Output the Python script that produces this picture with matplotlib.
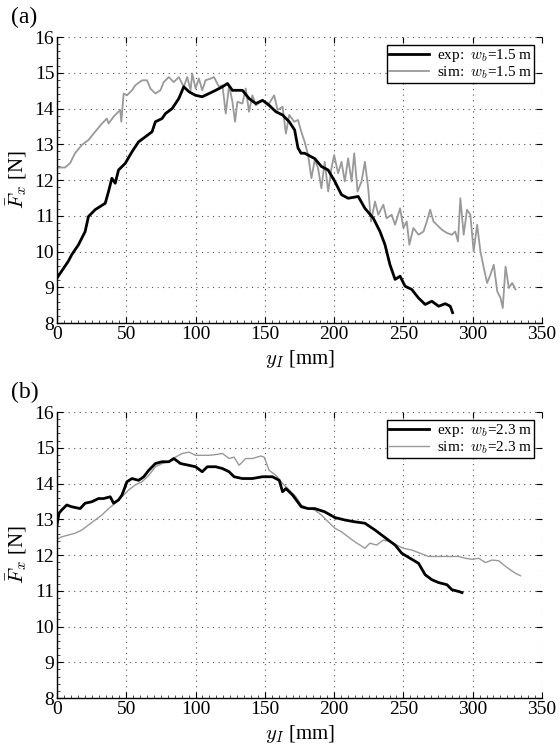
import numpy as np
import matplotlib
matplotlib.use("Agg")
from matplotlib import pyplot as plt
from matplotlib.ticker import MultipleLocator

plt.rcParams['font.family'] = ['Liberation Serif', 'DejaVu Serif']
plt.rcParams['mathtext.fontset'] = 'cm'

# === panel (a): w_b = 1.5 m ===
exp_a_x = [0, 8.2, 10.6, 15.5, 20.3, 22.7, 27.5, 34.8, 37.2, 39.6, 42, 44.4, 49.3, 54.1, 58.9,
           63.8, 68.6, 71, 75.8, 78.3, 83.1, 87.9, 91.5, 95.2, 100, 104.8, 109.7, 114.5, 119.4,
           123, 126.6, 133.8, 138.6, 143.5, 148.3, 153.1, 158, 162.8, 167.6, 171.5, 173.9,
           176.1, 178.7, 186, 190.8, 195.7, 200.5, 205.3, 210.1, 217.4, 222.2, 228.3, 233.1,
           236.7, 240.3, 244, 247.6, 251.2, 256, 260.9, 265.7, 270.5, 275.4, 280.2, 283.8, 285.5]
exp_a_y = [9.26, 9.73, 9.91, 10.19, 10.56, 10.98, 11.17, 11.35, 11.68, 12.05, 11.91, 12.28, 12.47,
           12.79, 13.07, 13.21, 13.35, 13.63, 13.72, 13.86, 14.0, 14.28, 14.61, 14.47, 14.37,
           14.33, 14.42, 14.51, 14.61, 14.70, 14.51, 14.51, 14.28, 14.14, 14.23, 14.09, 13.91,
           13.82, 13.63, 13.40, 12.90, 12.75, 12.75, 12.6, 12.38, 12.28, 11.96, 11.59, 11.49,
           11.54, 11.21, 10.93, 10.56, 10.19, 9.63, 9.22, 9.31, 9.03, 8.94, 8.70, 8.52, 8.61,
           8.47, 8.54, 8.47, 8.29]

sim_a_x = [0, 5.8, 9.4, 13, 17.9, 22.7, 27.5, 32.4, 36, 37.2, 40.8, 45.6, 46.4, 48.1, 50.5, 54.1,
           56.5, 61.4, 65, 67.4, 71, 74.6, 77, 80.7, 84.3, 87.9, 91.5, 94, 96.4, 97.6, 100, 102.4,
           104.8, 107.2, 110.9, 113.3, 116.9, 119.4, 121.8, 124.2, 126.6, 128.5, 130.2, 133.8,
           136.2, 138.6, 141, 143.5, 148.3, 153.1, 156.7, 159.2, 162.8, 165.2, 167.6, 171.2,
           173.9, 176.3, 178.7, 181.2, 183.6, 186, 188.4, 190.8, 193.2, 195.7, 198.1, 200,
           202.9, 205.3, 207.7, 210.1, 212.6, 214.5, 216.9, 219.8, 222.2, 224.6, 226.6, 229.5,
           231.9, 235.5, 237.9, 241.5, 244, 247.6, 250, 252.4, 254.3, 257.2, 260.9, 264.5,
           266.9, 269.3, 271.7, 275.4, 277.8, 281.4, 285, 287.4, 289.4, 291.1, 293.5, 295.9,
           298.3, 300.7, 303.2, 305.6, 308, 310.4, 312.8, 315.2, 317.7, 320.1, 321.7, 323.7,
           326.1, 328.5, 330.9]
sim_a_y = [12.35, 12.35, 12.47, 12.75, 12.98, 13.12, 13.35, 13.58, 13.72, 13.58, 13.77, 13.96,
           13.63, 14.42, 14.37, 14.51, 14.65, 14.79, 14.79, 14.56, 14.42, 14.51, 14.74, 14.88,
           14.74, 14.88, 14.61, 14.88, 14.51, 14.98, 14.56, 14.84, 14.51, 14.79, 14.84, 14.88,
           14.61, 14.65, 13.86, 14.65, 14.19, 13.63, 14.19, 14.14, 14.56, 13.91, 14.37, 14.09,
           14.23, 14.14, 14.37, 13.96, 14.05, 13.30, 13.82, 13.63, 13.68, 13.35, 13.07, 12.70,
           12.05, 12.56, 12.33, 11.77, 12.51, 11.68, 12.33, 12.70, 12.19, 12.51, 11.96, 12.61,
           11.96, 12.75, 11.68, 11.96, 12.51, 11.77, 10.84, 11.40, 11.03, 11.31, 10.93, 11.03,
           10.75, 11.21, 10.66, 10.84, 10.19, 10.66, 10.47, 10.56, 10.84, 11.17, 10.84, 10.70,
           10.61, 10.52, 10.47, 10.56, 10.28, 11.49, 10.47, 11.17, 11.03, 10.0, 10.75, 10.0,
           9.54, 9.12, 9.35, 9.63, 8.89, 8.70, 8.42, 9.58, 8.98, 9.12, 8.94]

# === panel (b): w_b = 2.3 m ===
exp_b_x = [0, 1.4, 3.4, 7, 10.6, 16.7, 20.3, 25.1, 29.9, 33.6, 38.4, 40.8, 44.4, 46.9, 50.5,
           54.1, 58.9, 62.6, 66.2, 71, 75.8, 80.7, 84.3, 89.1, 95.2, 100, 104.8, 108.5, 114.5,
           119.4, 124.2, 127.8, 133.8, 141, 148.3, 155.5, 160.4, 162.8, 165.2, 170, 176.3,
           181.2, 186, 193.2, 200.5, 207.7, 214.9, 222.2, 229.5, 234.3, 239.1, 244, 248.8,
           254.8, 260.9, 265.7, 270.5, 275.4, 281.4, 285, 289.9, 292.3]
exp_b_y = [12.84, 13.17, 13.26, 13.40, 13.35, 13.30, 13.45, 13.49, 13.58, 13.58, 13.63, 13.45,
           13.54, 13.68, 14.05, 14.14, 14.09, 14.19, 14.37, 14.56, 14.61, 14.61, 14.70, 14.56,
           14.51, 14.47, 14.33, 14.47, 14.47, 14.42, 14.33, 14.19, 14.14, 14.14, 14.19, 14.19,
           14.09, 13.77, 13.86, 13.68, 13.35, 13.30, 13.30, 13.21, 13.05, 12.98, 12.93, 12.89,
           12.70, 12.56, 12.42, 12.28, 12.05, 11.91, 11.77, 11.45, 11.31, 11.23, 11.17, 11.03,
           10.98, 10.95]

sim_b_x = [0, 3.4, 8.2, 13, 17.9, 22.7, 27.5, 32.4, 37.2, 42, 46.9, 51.7, 56.5, 61.4, 66.2, 71,
           75.8, 80.7, 85.5, 90.3, 95.2, 100, 104.8, 109.7, 114.5, 119.4, 124.2, 127.8, 131.4,
           136.2, 141, 147.1, 149.5, 153.1, 158, 162.8, 167.6, 172.5, 176.3, 181.2, 186, 190.8,
           195.7, 200.5, 205.3, 210.1, 214.9, 218.6, 222.2, 225.8, 230.7, 235.5, 240.3, 245.2,
           250, 256, 262.1, 268.1, 275.4, 282.6, 289.9, 294.7, 299.5, 304.3, 309.2, 314, 318.8,
           322.5, 327.3, 330.9, 334.5]
sim_b_y = [12.44, 12.51, 12.56, 12.61, 12.70, 12.84, 12.98, 13.12, 13.30, 13.45, 13.63, 13.82,
           13.96, 14.05, 14.23, 14.47, 14.56, 14.61, 14.74, 14.84, 14.88, 14.79, 14.79, 14.79,
           14.81, 14.84, 14.70, 14.74, 14.51, 14.70, 14.70, 14.77, 14.74, 14.37, 14.23, 14.0,
           13.82, 13.63, 13.40, 13.30, 13.26, 13.12, 12.93, 12.75, 12.65, 12.51, 12.37, 12.28,
           12.19, 12.33, 12.28, 12.42, 12.37, 12.28, 12.19, 12.14, 12.05, 11.96, 11.96, 11.96,
           11.96, 11.91, 11.88, 11.91, 11.79, 11.86, 11.84, 11.72, 11.58, 11.49, 11.42]

panels = [
    ("(a)", exp_a_x, exp_a_y, sim_a_x, sim_a_y, "1.5", 2.0, 1.3),
    ("(b)", exp_b_x, exp_b_y, sim_b_x, sim_b_y, "2.3", 2.0, 1.0),
]

fig = plt.figure(figsize=(5.6, 7.5), dpi=100)
ax_rects = [[0.1018, 0.5693, 0.866, 0.3813], [0.1018, 0.0693, 0.866, 0.3813]]

for rect, (tag, ex, ey, sx, sy, wb, lw_e, lw_s) in zip(ax_rects, panels):
    ax = fig.add_axes(rect)
    ax.plot(ex, ey, color='black', lw=lw_e, label=r"exp:  $w_b$=%s m" % wb, zorder=3)
    ax.plot(sx, sy, color='#999999', lw=lw_s, label=r"sim:  $w_b$=%s m" % wb, zorder=2)
    ax.set_xlim(0, 350)
    ax.set_ylim(8, 16)
    ax.xaxis.set_major_locator(MultipleLocator(50))
    ax.yaxis.set_major_locator(MultipleLocator(1))
    ax.xaxis.set_minor_locator(MultipleLocator(5))
    ax.yaxis.set_minor_locator(MultipleLocator(0.2))
    ax.grid(True, which='major', linestyle=(0, (1, 4)), color='#555555', lw=0.8)
    ax.spines['top'].set_visible(False)
    ax.spines['right'].set_visible(False)
    ax.spines['left'].set_linewidth(1.0)
    ax.spines['bottom'].set_linewidth(1.0)
    ax.tick_params(which='major', direction='in', length=4, width=0.8,
                   top=True, right=True, labelsize=14, pad=2)
    ax.tick_params(which='minor', direction='in', length=2, width=0.5)
    ax.set_xlabel(r"$y_I$ [mm]", fontsize=15, labelpad=4)
    ax.set_ylabel(r"$\bar{F}_x$ [N]", fontsize=15, labelpad=4)
    leg = ax.legend(loc='upper right', fontsize=11, handlelength=2.6, borderaxespad=0.5,
                    fancybox=False, framealpha=1, edgecolor='black',
                    borderpad=0.15, labelspacing=0.0, handletextpad=0.5)
    leg.get_frame().set_linewidth(1.0)
    ax.text(-0.095, 1.03, tag, transform=ax.transAxes, fontsize=17, ha='left', va='bottom')

fig.savefig("out.png", dpi=100)
